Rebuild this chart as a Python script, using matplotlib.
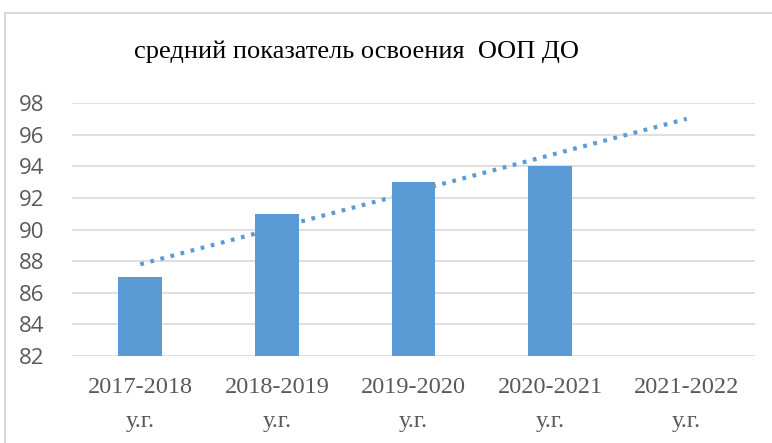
import numpy as np
import matplotlib.pyplot as plt
from matplotlib.patches import Rectangle

years = ["2017-2018", "2018-2019", "2019-2020", "2020-2021", "2021-2022"]
values = [87, 91, 93, 94, np.nan]
title = "средний показатель освоения  ООП ДО"

blue = "#5B9BD5"
grey = "#595959"

fig = plt.figure(figsize=(7.72, 4.43), dpi=100)
ax = fig.add_axes([72 / 772, 1 - 356 / 443, (755 - 72) / 772, (356 - 103) / 443])

x = np.arange(len(years))
ax.bar(x, values, width=0.32, color=blue, zorder=3, bottom=0)

# linear trend through the known points, one step ahead
known = ~np.isnan(values)
k, b = np.polyfit(x[known], np.array(values)[known], 1)
ax.plot(x, k * x + b, color=blue, lw=3, ls=(0, (0.9, 1.6)),
        dash_capstyle="butt", zorder=4)

ax.set_ylim(82, 98)
ax.set_xlim(-0.5, 4.5)
ax.set_yticks(range(82, 99, 2))
ax.yaxis.grid(True, color="#D9D9D9", lw=1.2, zorder=0)
for s in ax.spines.values():
    s.set_visible(False)
ax.tick_params(length=0)
ax.tick_params(axis="y", pad=20, labelsize=16, labelcolor=grey)
for t in ax.get_yticklabels():
    t.set_fontfamily("Open Sans")

ax.set_xticks(x)
ax.set_xticklabels([y + "\nу.г." for y in years], fontfamily="Liberation Serif",
                   fontsize=17.5, color=grey, linespacing=1.8)
ax.tick_params(axis="x", pad=15)

fig.text(357 / 772, 1 - 52 / 443, title, ha="center", va="center",
         fontfamily="Liberation Serif", fontsize=19, color="black")

fig.patches.append(Rectangle((5 / 772, -0.1), 1.2, 1 - 13 / 443 + 0.1,
                             transform=fig.transFigure, fill=False,
                             edgecolor="#D9D9D9", lw=1.5))

fig.savefig("out.png", dpi=100)
